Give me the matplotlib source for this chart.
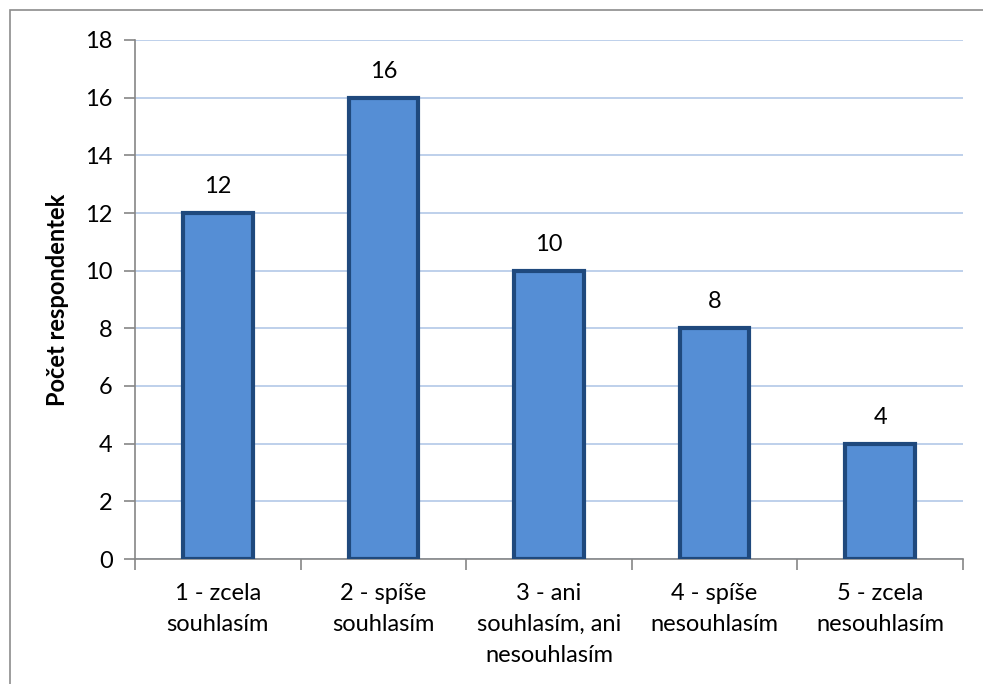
import matplotlib.pyplot as plt
from matplotlib.patches import Rectangle
import numpy as np

plt.rcParams.update({
    'font.family': ['Lato', 'DejaVu Sans'],
    'font.size': 17.0,
    'axes.axisbelow': True,
})

categories = ['1 - zcela\nsouhlasím', '2 - spíše\nsouhlasím', '3 - ani\nsouhlasím, ani\nnesouhlasím',
              '4 - spíše\nnesouhlasím', '5 - zcela\nnesouhlasím']
counts = [12, 16, 10, 8, 4]
y_ticks = [0, 2, 4, 6, 8, 10, 12, 14, 16, 18]

fig = plt.figure(figsize=(9.83, 6.84), dpi=100)
ax = fig.add_axes([135 / 983, 1 - 559 / 684, (963 - 135) / 983, (559 - 40) / 684])

# chart area frame (left and top edges visible)
fig.patches.append(Rectangle((10 / 983, -0.1), 1.2, 1 - 10 / 684 + 0.1,
                             transform=fig.transFigure, fill=False,
                             edgecolor='#8c8c8c', linewidth=1.2))

x = np.arange(len(categories))
bars = ax.bar(x, counts, width=0.42, color='#558ed5', edgecolor='#1f497d',
              linewidth=3, zorder=3)

for xi, v in zip(x, counts):
    ax.text(xi, v + 0.55, str(v), ha='center', va='bottom', fontsize=17)

ax.set_xlim(-0.5, len(categories) - 0.5)
ax.set_ylim(0, 18)
ax.set_yticks(y_ticks)
ax.yaxis.grid(True, color='#b9cde9', linewidth=1.3)

ax.set_xticks(np.arange(len(categories) + 1) - 0.5)
ax.set_xticklabels([])
ax.set_xticks(x, minor=True)
ax.set_xticklabels(categories, minor=True, linespacing=1.6, va='top')
ax.tick_params(axis='x', which='minor', length=0, pad=17)
ax.tick_params(axis='both', which='major', length=8, width=1.2, color='#868686')
ax.tick_params(axis='y', pad=8)

for side in ('top', 'right'):
    ax.spines[side].set_visible(False)
for side in ('left', 'bottom'):
    ax.spines[side].set_color('#868686')
    ax.spines[side].set_linewidth(1.2)

ax.set_ylabel('Počet respondentek', fontweight='bold', fontsize=17, labelpad=12)

fig.savefig('out.png', dpi=100)
